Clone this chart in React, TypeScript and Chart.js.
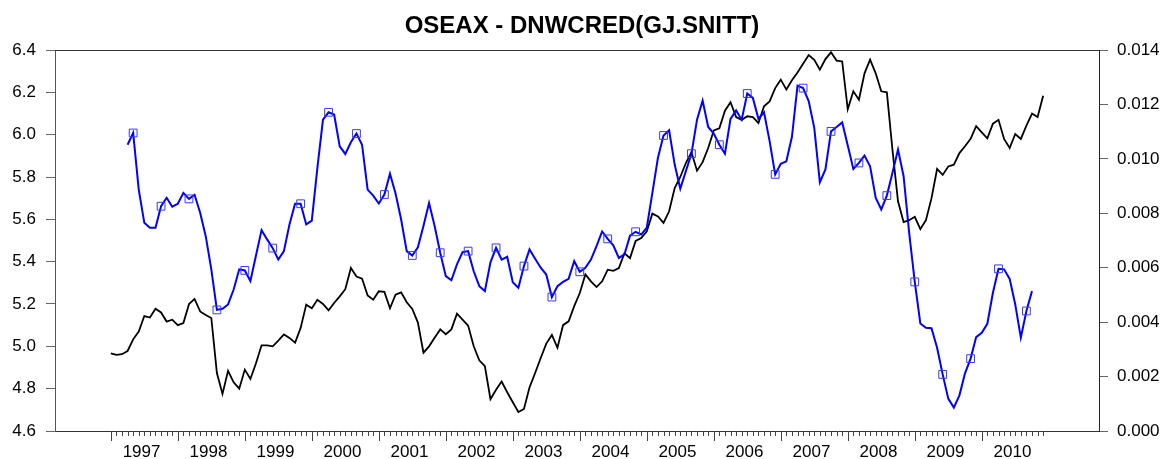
import React, { useEffect, useRef } from "react";
import { Chart, registerables } from "chart.js";

Chart.register(...registerables);

const TITLE = "OSEAX - DNWCRED(GJ.SNITT)";
const YEARS = ["1997", "1998", "1999", "2000", "2001", "2002", "2003", "2004", "2005", "2006", "2007", "2008", "2009", "2010"];
const LEFT_TICKS = [4.6, 4.8, 5.0, 5.2, 5.4, 5.6, 5.8, 6.0, 6.2, 6.4];
const RIGHT_TICKS = [0, 0.002, 0.004, 0.006, 0.008, 0.01, 0.012, 0.014];

// OSEAX, monthly Jan 1997 - Dec 2010 (left axis)
const OSEAX = [
  4.967, 4.96, 4.963, 4.978, 5.033, 5.07, 5.143, 5.136, 5.177, 5.16, 5.117, 5.126,
  5.1, 5.11, 5.2, 5.224, 5.165, 5.148, 5.134, 4.874, 4.775, 4.884, 4.83, 4.8,
  4.89, 4.846, 4.92, 5.005, 5.005, 5.0, 5.027, 5.056, 5.04, 5.017, 5.087, 5.197,
  5.18, 5.22, 5.2, 5.17, 5.205, 5.236, 5.27, 5.37, 5.33, 5.32, 5.24, 5.22,
  5.26, 5.257, 5.18, 5.244, 5.255, 5.208, 5.177, 5.112, 4.97, 5.0, 5.04, 5.08,
  5.057, 5.08, 5.154, 5.126, 5.098, 5.0, 4.934, 4.906, 4.75, 4.795, 4.834, 4.783,
  4.736, 4.69, 4.704, 4.806, 4.874, 4.945, 5.013, 5.054, 4.993, 5.1, 5.118, 5.19,
  5.252, 5.34, 5.307, 5.28, 5.307, 5.362, 5.357, 5.37, 5.44, 5.417, 5.498, 5.512,
  5.543, 5.627, 5.614, 5.583, 5.638, 5.748, 5.8, 5.866, 5.917, 5.83, 5.87, 5.937,
  6.02, 6.03, 6.113, 6.153, 6.083, 6.07, 6.087, 6.083, 6.055, 6.134, 6.157, 6.22,
  6.26, 6.213, 6.257, 6.294, 6.335, 6.376, 6.354, 6.307, 6.357, 6.389, 6.35, 6.346,
  6.12, 6.205, 6.165, 6.29, 6.354, 6.29, 6.205, 6.2, 5.93, 5.685, 5.587, 5.596,
  5.612, 5.554, 5.596, 5.7, 5.838, 5.81, 5.85, 5.858, 5.913, 5.945, 5.98, 6.04,
  6.011, 5.983, 6.052, 6.07, 5.98, 5.937, 6.003, 5.98, 6.043, 6.1, 6.083, 6.184,
];

// DNWCRED(GJ.SNITT), monthly Apr 1997 - Oct 2010 (right axis)
const DNWCRED_START = 3;
const DNWCRED = [
  0.01052, 0.01095, 0.00887, 0.00765, 0.00747, 0.00747, 0.00826, 0.00857, 0.00824,
  0.00835, 0.00875, 0.00853, 0.00868, 0.00802, 0.00716, 0.00594, 0.00445, 0.00449, 0.00465, 0.0052, 0.00594,
  0.0059, 0.00551, 0.00645, 0.00738, 0.00704, 0.00672, 0.0063, 0.00661, 0.00759, 0.00835, 0.00835, 0.00759,
  0.00773, 0.00967, 0.01144, 0.01171, 0.01163, 0.01046, 0.01018, 0.01061, 0.01093, 0.01052, 0.00887, 0.00865,
  0.00836, 0.00869, 0.00945, 0.00873, 0.00777, 0.00661, 0.00645, 0.00675, 0.00753, 0.00838, 0.00753, 0.00655,
  0.00569, 0.00554, 0.00612, 0.00657, 0.00661, 0.00587, 0.00532, 0.00514, 0.0062, 0.00673, 0.0063, 0.0064,
  0.00547, 0.00526, 0.00606, 0.00667, 0.00633, 0.006, 0.00575, 0.00492, 0.00532, 0.00548, 0.00559, 0.00624,
  0.00585, 0.006, 0.0063, 0.00679, 0.00733, 0.00706, 0.00682, 0.00636, 0.00649, 0.00718, 0.00732, 0.00722,
  0.00747, 0.00875, 0.01004, 0.01086, 0.01105, 0.00979, 0.0089, 0.00955, 0.01019, 0.01144, 0.01214, 0.01117,
  0.01093, 0.01052, 0.01019, 0.01147, 0.01178, 0.01144, 0.0124, 0.01224, 0.01147, 0.01171, 0.01065, 0.00943,
  0.00982, 0.00991, 0.01081, 0.01269, 0.0126, 0.01212, 0.01114, 0.00914, 0.00961, 0.01101, 0.01117, 0.01134,
  0.01049, 0.00963, 0.00985, 0.01012, 0.00973, 0.00857, 0.00814, 0.00865, 0.00948, 0.01034, 0.00936, 0.00728,
  0.00548, 0.00395, 0.00379, 0.00378, 0.00306, 0.00208, 0.00119, 0.00086, 0.00131, 0.00212, 0.00266, 0.00345,
  0.00361, 0.00394, 0.00508, 0.00596, 0.00594, 0.00559, 0.00465, 0.00343, 0.00441, 0.00514,
];

const FONT = "'Liberation Sans', Arial, Helvetica, sans-serif";

const framePlugin = {
  id: "frameAndTicks",
  afterDraw(chart: any) {
    const ctx = chart.ctx;
    const { top, bottom, left, right } = chart.chartArea;
    const xs = chart.scales.x;
    ctx.save();
    ctx.strokeStyle = "#333";
    ctx.lineWidth = 1;
    ctx.beginPath();
    ctx.moveTo(left, top + 0.5);
    ctx.lineTo(right, top + 0.5);
    ctx.stroke();
    ctx.strokeStyle = "#444";
    ctx.beginPath();
    for (let i = 0; i < OSEAX.length; i++) {
      const px = Math.round(xs.getPixelForValue(i)) + 0.5;
      const len = i % 12 === 0 ? 10 : 5;
      ctx.moveTo(px, bottom);
      ctx.lineTo(px, bottom + len);
    }
    ctx.stroke();
    ctx.restore();
  },
};

export default function App() {
  const ref = useRef<HTMLCanvasElement | null>(null);

  useEffect(() => {
    if (!ref.current) return;
    const blackData = OSEAX.map((v, i) => ({ x: i, y: v }));
    const blueData = DNWCRED.map((v, j) => ({ x: j + DNWCRED_START, y: v }));

    const chart = new Chart(ref.current, {
      type: "line",
      data: {
        datasets: [
          {
            label: "OSEAX",
            data: blackData,
            yAxisID: "y",
            borderColor: "#000000",
            borderWidth: 1.8,
            pointRadius: 0,
            tension: 0,
            order: 1,
          },
          {
            label: "DNWCRED(GJ.SNITT)",
            data: blueData,
            yAxisID: "y1",
            borderColor: "#0000ff",
            borderWidth: 2,
            tension: 0,
            pointStyle: "rect",
            pointRadius: (c: any) => ((c.dataIndex - 1) % 5 === 0 ? 5.5 : 0),
            pointHoverRadius: 0,
            pointBackgroundColor: "rgba(0,0,0,0)",
            pointBorderColor: "#3838ff",
            pointBorderWidth: 1,
            order: 0,
          },
        ],
      },
      options: {
        responsive: false,
        animation: false,
        events: [],
        layout: { padding: 0 },
        plugins: {
          legend: { display: false },
          tooltip: { enabled: false },
          title: {
            display: true,
            text: TITLE,
            color: "#000",
            font: { family: FONT, size: 24, weight: "bold", lineHeight: 1.2 },
            padding: { top: 12, bottom: 9.2 },
          },
        },
        scales: {
          x: {
            type: "linear",
            min: -10,
            max: 177,
            grid: { display: false, drawTicks: false },
            border: { display: true, color: "#333", width: 1 },
            afterBuildTicks: (s: any) => {
              s.ticks = YEARS.map((_, k) => ({ value: 5.5 + 12 * k }));
            },
            ticks: {
              autoSkip: false,
              maxRotation: 0,
              padding: 11,
              color: "#000",
              font: { family: FONT, size: 17 },
              callback: (_v: any, idx: number) => YEARS[idx],
            },
            afterFit: (s: any) => {
              s.height = 28;
              s.paddingLeft = 0;
              s.paddingRight = 0;
            },
          },
          y: {
            type: "linear",
            position: "left",
            min: 4.6,
            max: 6.4,
            afterBuildTicks: (s: any) => {
              s.ticks = LEFT_TICKS.map((v) => ({ value: v }));
            },
            grid: { drawOnChartArea: false, drawTicks: true, tickLength: 9, color: "#666" },
            border: { display: true, color: "#555", width: 1 },
            ticks: {
              padding: 10,
              color: "#000",
              font: { family: FONT, size: 17 },
              callback: (v: any) => Number(v).toFixed(1),
            },
            afterFit: (s: any) => {
              s.width = 55;
              s.paddingTop = 0;
              s.paddingBottom = 0;
            },
          },
          y1: {
            type: "linear",
            position: "right",
            min: 0,
            max: 0.014,
            afterBuildTicks: (s: any) => {
              s.ticks = RIGHT_TICKS.map((v) => ({ value: v }));
            },
            grid: { drawOnChartArea: false, drawTicks: true, tickLength: 9, color: "#666" },
            border: { display: true, color: "#222", width: 1 },
            ticks: {
              padding: 9,
              color: "#000",
              font: { family: FONT, size: 17 },
              callback: (v: any) => Number(v).toFixed(3),
            },
            afterFit: (s: any) => {
              s.width = 65;
              s.paddingTop = 0;
              s.paddingBottom = 0;
            },
          },
        },
      },
      plugins: [framePlugin],
    } as any);

    return () => chart.destroy();
  }, []);

  return (
    <div style={{ position: "absolute", left: 0, top: 0, width: 1164, height: 459, background: "#fff" }}>
      <canvas ref={ref} width={1164} height={459} style={{ display: "block" }} />
    </div>
  );
}
